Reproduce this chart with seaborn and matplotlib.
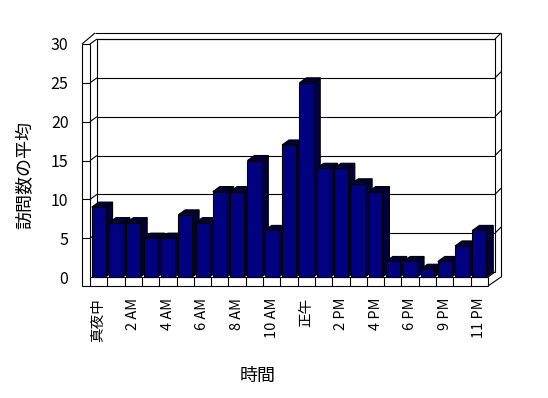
import numpy as np
import pandas as pd
import seaborn as sns
import matplotlib.pyplot as plt
from matplotlib.patches import Polygon, Rectangle

# Hourly averages (one evening hour has no data in the source)
hours = ["真夜中", "1 AM", "2 AM", "3 AM", "4 AM", "5 AM", "6 AM", "7 AM", "8 AM",
         "9 AM", "10 AM", "11 AM", "正午", "1 PM", "2 PM", "3 PM", "4 PM", "5 PM",
         "6 PM", "8 PM", "9 PM", "10 PM", "11 PM"]
visits = [9, 7, 7, 5, 5, 8, 7, 11, 11, 15, 6, 17, 25, 14, 14, 12, 11, 2, 2, 1, 2, 4, 6]
y_ticks = [0, 5, 10, 15, 20, 25, 30]

df = pd.DataFrame({"時間": hours, "訪問数の平均": visits})

plt.rcParams['font.family'] = ['Noto Sans CJK JP', 'DejaVu Sans']

NAVY = "#000080"
DARK = "#00003c"
LW = 0.8

# front plane of the chart, in pixels
fig = plt.figure(figsize=(5.48, 3.98), dpi=100)
left_px, right_px, zero_px, top_px = 90, 488, 277, 44
ax = fig.add_axes([left_px / 548, (398 - zero_px) / 398,
                   (right_px - left_px) / 548, (zero_px - top_px) / 398])

n = len(hours)
cat_px = (right_px - left_px) / n
val_px = (zero_px - top_px) / 30.0


def d(px, py):
    # pixel offset -> data offset
    return px / cat_px, py / val_px


d1x, d1y = d(7, 5)      # depth of bars / back wall
d2x, d2y = d(13, 11)    # outer rim of the wall
slx, _ = d(8, 0)        # left wall thickness
_, fly = d(0, 9)        # floor thickness

xl, xr = -0.5, n - 0.5

# bars first, so ax.patches only holds the bars
sns.barplot(data=df, x="時間", y="訪問数の平均", color=NAVY, saturation=1,
            width=0.8, edgecolor="black", linewidth=LW, ax=ax)
bars = list(ax.patches)

for i, p in enumerate(bars):
    x0 = p.get_x()
    x1 = x0 + p.get_width()
    h = p.get_height()
    z = 2 + i * 0.01
    side = Polygon([(x1, 0), (x1 + d1x, d1y), (x1 + d1x, h + d1y), (x1, h)],
                   facecolor=DARK, edgecolor="black", lw=LW, zorder=z, clip_on=False)
    top = Polygon([(x0, h), (x0 + d1x, h + d1y), (x1 + d1x, h + d1y), (x1, h)],
                  facecolor=DARK, edgecolor="black", lw=LW, zorder=z, clip_on=False)
    ax.add_patch(side)
    ax.add_patch(top)
    p.set_zorder(z + 0.005)
    p.set_clip_on(False)


def line(xs, ys, z=1):
    ax.plot(xs, ys, color="black", lw=LW, clip_on=False, zorder=z,
            solid_capstyle="butt")


# back wall
ax.add_patch(Rectangle((xl + d1x, d1y), n, 30, facecolor="white",
                       edgecolor="black", lw=LW, clip_on=False, zorder=0.5))
for yv in y_ticks[1:]:
    line([xl + d1x, xr + d1x], [yv + d1y, yv + d1y])
    # left wall diagonals and ticks
    line([xl, xl + d1x], [yv, yv + d1y])
    line([xl - slx, xl], [yv, yv])
    # rim ticks on the right
    line([xr + d1x, xr + d2x], [yv + d1y, yv + d2y])

# left wall and rim
line([xl - slx, xl - slx], [-fly, 30])
line([xl, xl], [0, 30])
line([xl - slx, xl - slx + d2x], [30, 30 + d2y])
line([xl - slx + d2x, xr + d2x], [30 + d2y, 30 + d2y])
line([xr + d2x, xr + d2x], [0, 30 + d2y])

# floor
line([xl, xr], [0, 0])
line([xl - slx, xr], [-fly, -fly])
for b in np.arange(xl, xr + 1):
    line([b, b], [-fly, 0])
line([xr, xr + d2x], [-fly, 0])
line([xr, xr + d1x], [0, d1y])

ax.set_xlim(xl, xr)
ax.set_ylim(0, 30)
for s in ax.spines.values():
    s.set_visible(False)
ax.set_facecolor("none")

ax.set_yticks(y_ticks)
ax.set_yticklabels([str(v) for v in y_ticks], fontsize=11.5)
ax.tick_params(axis="y", length=0, pad=15.5)

ax.set_xticks(range(0, n, 2))
ax.set_xticklabels(hours[::2], rotation=90, fontsize=10.5, va="top", ha="center")
ax.tick_params(axis="x", length=0, pad=15)

ax.set_xlabel("時間", fontsize=13)
ax.set_ylabel("訪問数の平均", fontsize=13)
ax.xaxis.label.set_va("center")
ax.yaxis.label.set_va("center")
ax.xaxis.set_label_coords((258 - left_px) / (right_px - left_px), (zero_px - 376) / (zero_px - top_px))
ax.yaxis.set_label_coords((25 - left_px) / (right_px - left_px), (zero_px - 175) / (zero_px - top_px))

fig.savefig("out.png", dpi=100, facecolor="white")
